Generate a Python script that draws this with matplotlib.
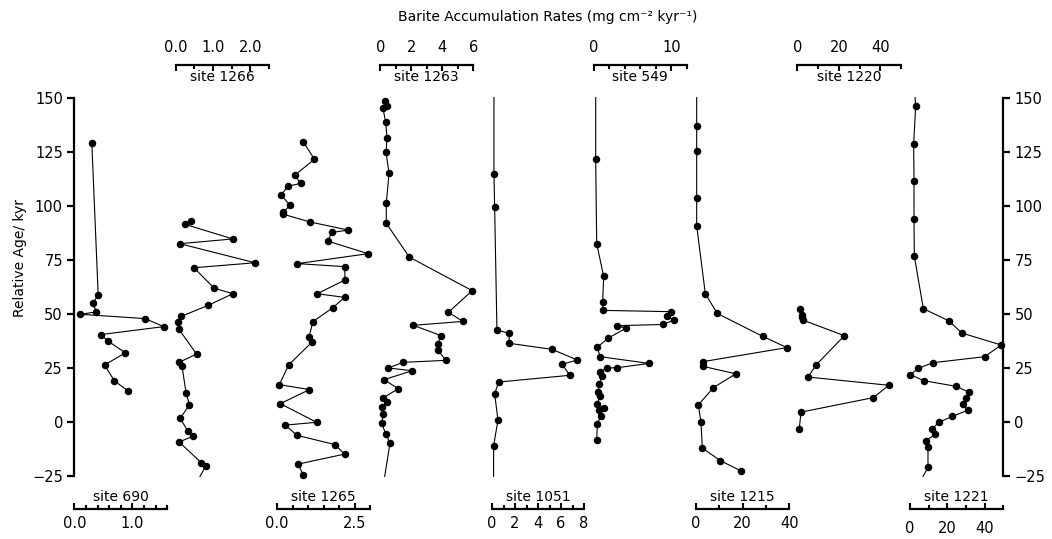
import matplotlib
matplotlib.use('Agg')
import matplotlib.pyplot as plt
from matplotlib.ticker import FixedLocator, MultipleLocator

# ---- data (age in kyr, barite accumulation rate) ----
age_690 = [129.2, 58.9, 54.9, 51.0, 49.9, 47.9, 44.2, 40.5, 37.5, 32.1, 26.5, 19.1, 14.4]
rate_690 = [0.30, 0.41, 0.32, 0.38, 0.10, 1.22, 1.54, 0.45, 0.58, 0.88, 0.52, 0.69, 0.93]

age_1266 = [93.0, 91.4, 84.7, 82.5, 73.7, 71.4, 62.0, 59.4, 54.0, 48.9, 46.3, 42.9, 31.5,
            27.7, 25.8, 13.4, 8.1, 1.8, -3.9, -6.5, -9.1, -18.7, -20.2, -25.0]
rate_1266 = [0.41, 0.26, 1.53, 0.11, 2.13, 0.49, 1.03, 1.53, 0.87, 0.14, 0.07, 0.09, 0.56,
             0.09, 0.17, 0.28, 0.37, 0.12, 0.32, 0.46, 0.09, 0.69, 0.81, 0.65]

age_1265 = [129.6, 121.5, 114.1, 110.4, 109.0, 105.0, 100.2, 97.0, 96.1, 92.5, 88.8, 87.7,
            83.7, 77.9, 73.3, 71.9, 65.7, 59.4, 57.7, 52.9, 46.5, 39.5, 36.9, 26.5, 17.4,
            15.1, 8.6, 0.0, -1.3, -6.0, -10.3, -14.7, -19.3, -24.2]
rate_1265 = [0.84, 1.20, 0.56, 0.76, 0.34, 0.13, 0.41, 0.19, 0.20, 1.07, 2.29, 1.76,
             1.63, 2.93, 0.65, 2.18, 2.18, 1.29, 2.17, 1.79, 1.15, 1.03, 1.11, 0.37, 0.07,
             1.04, 0.10, 1.27, 0.26, 0.63, 1.86, 2.17, 0.68, 0.83]

age_1263 = [148.4, 146.3, 145.0, 138.6, 131.2, 124.7, 115.2, 101.1, 91.9, 76.3, 60.8, 50.8,
            46.6, 44.8, 40.0, 36.3, 33.5, 28.6, 27.7, 25.1, 23.8, 19.7, 15.5, 11.4, 9.2,
            7.1, 4.0, -0.5, -5.6, -9.6, -25.0]
rate_1263 = [0.30, 0.45, 0.17, 0.34, 0.43, 0.36, 0.56, 0.38, 0.38, 1.87, 5.94, 4.39,
             5.34, 2.13, 3.94, 3.70, 3.72, 4.22, 1.48, 0.51, 2.06, 0.23, 1.16, 0.20, 0.45,
             0.12, 0.20, 0.08, 0.36, 0.62, 0.28]

age_1051 = [150.0, 114.5, 99.3, 42.6, 41.1, 36.5, 33.7, 28.8, 26.8, 21.7, 18.6, 13.2, 1.0,
            -10.8, -25.0]
rate_1051 = [0.17, 0.17, 0.23, 0.43, 1.51, 1.48, 5.22, 7.42, 6.11, 6.76, 0.58, 0.23, 0.52,
             0.14, 0.14]

age_549 = [150.0, 121.5, 82.5, 67.4, 55.4, 51.7, 51.1, 49.1, 47.2, 45.2, 44.6, 43.5, 38.9,
           34.6, 30.3, 27.2, 25.2, 25.1, 23.2, 21.4, 17.7, 14.1, 12.1, 8.4, 6.7, 5.7, 3.1,
           -0.8, -8.4]
rate_549 = [0.22, 0.22, 0.35, 1.25, 1.12, 1.12, 9.93, 9.50, 10.32, 8.94, 2.94, 4.15, 1.86,
            0.39, 0.82, 7.12, 2.98, 1.73, 0.73, 1.08, 0.65, 0.56, 0.78, 0.43, 1.30, 0.65, 0.91,
            0.43, 0.35]

age_1215 = [150.0, 136.9, 125.2, 103.6, 90.8, 59.4, 50.3, 39.7, 34.5, 28.0, 25.8, 22.4, 16.0,
            8.0, 0.0, -11.9, -17.7, -22.6]
rate_1215 = [0.29, 0.29, 0.29, 0.29, 0.29, 4.0, 9.1, 28.6, 39.0, 2.86, 3.14, 17.1, 7.43,
             1.0, 2.14, 2.71, 10.4, 19.5]

age_1220 = [52.3, 49.5, 48.6, 47.2, 40.0, 26.6, 20.9, 17.1, 11.4, 4.7, -2.9]
rate_1220 = [1.45, 2.27, 2.10, 2.75, 22.7, 9.18, 5.16, 44.1, 36.7, 1.78, 0.96]

age_1221 = [150.0, 146.1, 128.7, 111.5, 94.1, 76.8, 52.5, 46.9, 41.2, 35.7, 30.3, 27.5, 24.9,
            22.0, 19.2, 16.6, 13.8, 11.1, 8.3, 5.5, 2.7, 0.0, -3.0, -5.6, -8.5, -11.3, -20.8,
            -25.0]
rate_1221 = [2.7, 3.04, 1.96, 2.14, 2.14, 2.32, 7.14, 20.7, 27.9, 48.9, 40.0, 12.1, 4.46,
             0.18, 7.5, 24.8, 31.8, 30.0, 28.4, 30.9, 22.5, 15.5, 11.9, 13.6, 8.4, 9.64, 9.64,
             7.0]

y_ticks = [150, 125, 100, 75, 50, 25, 0, -25]

# site name, ages, rates, unmarked line ends (top, bottom), x max, labelled ticks, minor step, side
sites = [
    ('690', age_690, rate_690, (False, False), 1.6, [0, 1.0], 0.2, 'bottom', ['0.0', '1.0']),
    ('1266', age_1266, rate_1266, (False, True), 2.5, [0, 1.0, 2.0], 0.5, 'top', ['0.0', '1.0', '2.0']),
    ('1265', age_1265, rate_1265, (False, False), 3.0, [0, 2.5], 0.5, 'bottom', ['0.0', '2.5']),
    ('1263', age_1263, rate_1263, (False, True), 6, [0, 2, 4, 6], 1, 'top', ['0', '2', '4', '6']),
    ('1051', age_1051, rate_1051, (True, True), 8, [0, 2, 4, 6, 8], 1, 'bottom', ['0', '2', '4', '6', '8']),
    ('549', age_549, rate_549, (True, False), 12, [0, 10], 2, 'top', ['0', '10']),
    ('1215', age_1215, rate_1215, (True, False), 40, [0, 20, 40], 10, 'bottom', ['0', '20', '40']),
    ('1220', age_1220, rate_1220, (False, False), 50, [0, 20, 40], 10, 'top', ['0', '20', '40']),
    ('1221', age_1221, rate_1221, (True, True), 50, [0, 20, 40], 10, 'bottom', ['0', '20', '40']),
]
# left/right pixel edge of each site's scale bar
x_px = [(74.4, 167.2), (175.7, 268.9), (277.2, 370.3), (380.4, 473.2), (492, 584),
        (594, 686.7), (696, 789.3), (797.3, 901), (910, 1003.3)]

W, H = 1052, 539
Y_TOP, Y_BOT = 97.6, 476.4
plt.rcParams['font.family'] = 'DejaVu Sans'
fig = plt.figure(figsize=(W / 100, H / 100), dpi=100)


def box(x0, x1):
    return [x0 / W, 1 - Y_BOT / H, (x1 - x0) / W, (Y_BOT - Y_TOP) / H]


# main age axis, left and right
ax = fig.add_axes(box(74, 1003.3))
ax.set_ylim(-25, 150)
ax.set_yticks(y_ticks)
ax.set_xticks([])
for s in ['top', 'bottom']:
    ax.spines[s].set_visible(False)
for s in ['left', 'right']:
    ax.spines[s].set_linewidth(1.6)
ax.tick_params(axis='y', left=True, right=True, labelleft=True, labelright=True,
               direction='out', length=5, width=1.6, labelsize=10.5, pad=3)
ax.patch.set_visible(False)
fig.text(20 / W, 1 - 258 / H, 'Relative Age/ kyr', rotation=90, ha='center', va='center', fontsize=10)
fig.text(548 / W, 1 - 17 / H, 'Barite Accumulation Rates (mg cm\u207b\u00b2 kyr\u207b\u00b9)',
         ha='center', va='center', fontsize=10)

for (name, ages, rates, ends, xmax, major, step, side, labels), (x0, x1) in zip(sites, x_px):
    a = fig.add_axes(box(x0, x1))
    a.patch.set_visible(False)
    a.set_xlim(0, xmax)
    a.set_ylim(-25, 150)
    a.set_yticks([])
    for s in ['top', 'bottom', 'left', 'right']:
        a.spines[s].set_visible(False)
    a.spines[side].set_visible(True)
    a.spines[side].set_linewidth(1.6)
    a.spines[side].set_position(('outward', 23.3))
    a.xaxis.set_ticks_position(side)
    a.xaxis.set_major_locator(FixedLocator(major))
    a.set_xticklabels(labels)
    a.xaxis.set_minor_locator(MultipleLocator(step))
    pad = 7.5 if side == 'top' else (9 if name == '1221' else 5)
    a.tick_params(axis='x', which='major', direction='in', length=4.5, width=1.5,
                  labelsize=10.5, pad=pad)
    a.tick_params(axis='x', which='minor', direction='in', length=3, width=1.5)

    first = 1 if ends[0] else 0
    last = len(ages) - 1 if ends[1] else len(ages)
    a.plot(rates, ages, '-', color='black', lw=0.8, marker='o', ms=4.4,
           markevery=list(range(first, last)), clip_on=False)

    ly = 77 if side == 'top' else 497
    fig.text((x0 + x1) / 2 / W, 1 - ly / H, 'site ' + name, ha='center', va='center', fontsize=10)

fig.savefig('out.png', dpi=100)
